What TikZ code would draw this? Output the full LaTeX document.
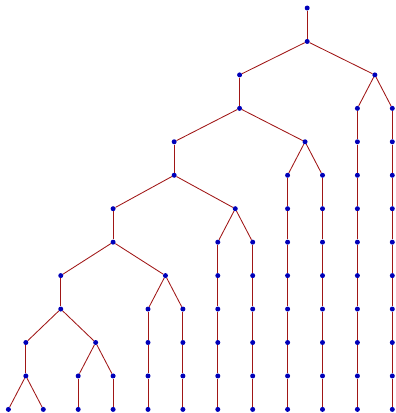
\documentclass[tikz,border=0pt]{standalone}
\definecolor{edgered}{RGB}{160,22,22}
\definecolor{dotblue}{RGB}{0,0,185}
\begin{document}
\begin{tikzpicture}[x=1pt,y=-1pt,
  dot/.style={circle,fill=dotblue,inner sep=0pt,minimum size=5pt},
  edge/.style={draw=edgered,line width=0.85pt}]
\useasboundingbox (0,0) rectangle (396,413);
% leaf chains
\foreach \i/\s in {0/12,1/12,2/11,3/11,4/9,5/9,6/7,7/7,8/5,9/5,10/3,11/3}{
  \foreach \k in {\s,...,12}{
    \node[dot] (L\i-\k) at ({8.4+34.9*\i},{8+33.45*\k}) {};
  }
}
\foreach \i/\s in {2/11,3/11,4/9,5/9,6/7,7/7,8/5,9/5,10/3,11/3}{
  \pgfmathtruncatemacro{\t}{\s+1}
  \foreach \k in {\t,...,12}{
    \pgfmathtruncatemacro{\p}{\k-1}
    \draw[edge] (L\i-\p) -- (L\i-\k);
  }
}
% internal nodes
\node[dot] (root) at (307.2,8) {};
\node[dot] (r1) at (307.2,41.45) {};
\node[dot] (A) at (239.6,74.9) {};
\node[dot] (A2) at (239.6,108.35) {};
\node[dot] (B) at (374.85,74.9) {};
\node[dot] (C) at (174.175,141.8) {};
\node[dot] (C2) at (174.175,175.25) {};
\node[dot] (D) at (305.05,141.8) {};
\node[dot] (E) at (113.1,208.7) {};
\node[dot] (E2) at (113.1,242.15) {};
\node[dot] (F) at (235.25,208.7) {};
\node[dot] (G) at (60.75,275.6) {};
\node[dot] (G2) at (60.75,309.05) {};
\node[dot] (H) at (165.45,275.6) {};
\node[dot] (I) at (25.85,342.5) {};
\node[dot] (I2) at (25.85,375.95) {};
\node[dot] (J) at (95.65,342.5) {};
% edges
\draw[edge] (root) -- (r1);
\draw[edge] (r1) -- (A);
\draw[edge] (r1) -- (B);
\draw[edge] (B) -- (L10-3);
\draw[edge] (B) -- (L11-3);
\draw[edge] (A) -- (A2);
\draw[edge] (A2) -- (C);
\draw[edge] (A2) -- (D);
\draw[edge] (D) -- (L8-5);
\draw[edge] (D) -- (L9-5);
\draw[edge] (C) -- (C2);
\draw[edge] (C2) -- (E);
\draw[edge] (C2) -- (F);
\draw[edge] (F) -- (L6-7);
\draw[edge] (F) -- (L7-7);
\draw[edge] (E) -- (E2);
\draw[edge] (E2) -- (G);
\draw[edge] (E2) -- (H);
\draw[edge] (H) -- (L4-9);
\draw[edge] (H) -- (L5-9);
\draw[edge] (G) -- (G2);
\draw[edge] (G2) -- (I);
\draw[edge] (G2) -- (J);
\draw[edge] (J) -- (L2-11);
\draw[edge] (J) -- (L3-11);
\draw[edge] (I) -- (I2);
\draw[edge] (I2) -- (L0-12);
\draw[edge] (I2) -- (L1-12);
\end{tikzpicture}
\end{document}
